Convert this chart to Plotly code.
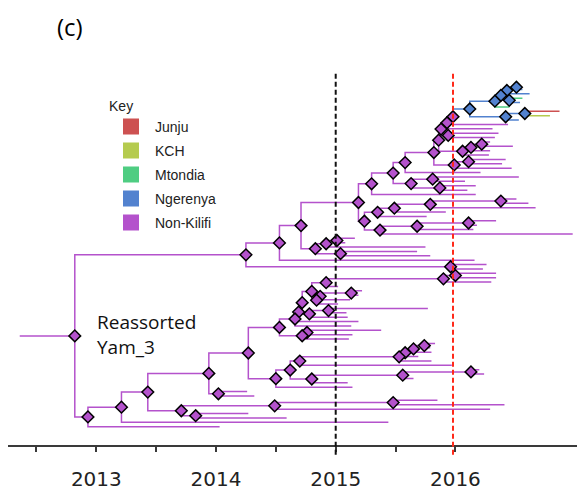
import plotly.graph_objects as go

# ---------------- data ----------------
# tips, listed top to bottom: sampling date (decimal year) and location code
tip_dates = [2016.54, 2016.56, 2016.62, 2016.56, 2016.54, 2016.45, 2016.87, 2016.79, 2016.53, 2016.44,
             2016.31, 2016.36, 2016.33, 2016.29, 2016.48, 2016.29, 2016.28, 2016.42, 2016.39, 2016.47,
             2016.21, 2016.53, 2016.08, 2016.17, 2016.10, 2016.17, 2016.51, 2016.61, 2016.67, 2015.92,
             2015.76, 2016.34, 2016.18, 2016.15, 2016.98, 2015.16, 2015.08, 2015.75, 2015.68, 2015.79,
             2016.16, 2016.26, 2016.23, 2016.34, 2016.34, 2016.30, 2015.02, 2015.22, 2015.19, 2015.12,
             2015.02, 2015.77, 2015.09, 2015.10, 2015.19, 2015.13, 2015.38, 2015.14, 2015.11, 2015.83,
             2015.79, 2015.80, 2015.69, 2015.80, 2015.97, 2016.20, 2016.24, 2015.65, 2015.10, 2015.14,
             2014.26, 2014.32, 2015.85, 2016.41, 2016.29, 2014.27, 2014.59, 2015.44, 2014.03]
tip_loc_codes = ("NNNMNMJKNX" "XXXXXXXXXX" "XXXXXXXXXX" "XXXXXXXXXX"
                 "XXXXXXXXXX" "XXXXXXXXXX" "XXXXXXXXXX" "XXXXXXXXX")

# internal nodes: name, date, inferred location, children
node_names = ["Z4", "Z2", "Z3", "Z1", "X1", "Y1", "X2", "W", "P1", "P2", "P4", "P3", "P10", "P9", "P8",
              "P5", "P11", "P7", "P6", "S", "U", "V", "T", "R", "I", "O", "Nn", "M", "K", "Q", "P", "L",
              "J", "D", "G", "F", "H", "E", "C", "B", "AN", "A",
              "N4", "N3", "N2", "N7", "N6", "N5", "N1", "L328", "LY", "LR", "LQ", "LP", "LO", "LN", "LK",
              "LX", "LW", "LV", "LU", "LS", "L470", "L403", "LT", "LM", "LL", "LI", "LJ", "LD", "LH",
              "LF", "LG", "LE", "LC", "LB", "LA", "root"]
node_dates = [2016.51, 2016.43, 2016.45, 2016.38, 2016.33, 2016.58, 2016.42, 2016.12, 2015.98, 2015.93,
              2015.94, 2015.88, 2016.22, 2016.13, 2016.06, 2015.86, 2016.11, 2015.99, 2015.82, 2015.58,
              2015.81, 2015.87, 2015.63, 2015.48, 2015.30, 2016.38, 2015.79, 2015.49, 2015.35, 2016.11,
              2015.68, 2015.37, 2015.24, 2015.19, 2015.01, 2014.92, 2015.04, 2014.83, 2014.71, 2014.53,
              2015.96, 2014.25,
              2016.00, 2015.90, 2014.92, 2015.13, 2014.87, 2014.84, 2014.80, 2014.94, 2014.78, 2014.72,
              2014.69, 2014.66, 2014.76, 2014.72, 2014.53, 2015.74, 2015.65, 2015.58, 2015.53, 2014.70,
              2016.13, 2015.56, 2014.80, 2014.62, 2014.50, 2014.27, 2014.02, 2013.94, 2015.48, 2014.49,
              2013.83, 2013.71, 2013.43, 2013.21, 2012.93, 2012.82]
node_loc_codes = ("NNNNNNNNXX" "XXXXXXXXXX" "XXXXXXXXXX" "XXXXXXXXXX"
                  "XXXXXXXXXX" "XXXXXXXXXX" "XXXXXXXXXX" "XXXXXXXX")
node_kids = [("t0", "t1"), ("Z4", "t2"), ("t3", "t4"), ("Z2", "Z3"), ("Z1", "t5"), ("t6", "t7"),
             ("Y1", "t8"), ("X1", "X2"), ("W", "t9"), ("P1", "t10"), ("t11", "t12"), ("P2", "P4"),
             ("t13", "t14"), ("P10", "t15"), ("P9", "t16"), ("P3", "P8"), ("t17", "t18"), ("P11", "t19"),
             ("P5", "P7"), ("P6", "t20"), ("t21", "t22"), ("t23", "t24"), ("U", "V"), ("S", "T"),
             ("R", "t25"), ("t26", "t27"), ("O", "t28"), ("Nn", "t29"), ("M", "t30"), ("t31", "t32"),
             ("Q", "t33"), ("P", "t34"), ("K", "L"), ("I", "J"), ("t35", "t36"), ("G", "t37"),
             ("t38", "t39"), ("F", "H"), ("D", "E"), ("C", "t40"), ("t41", "t42"), ("B", "AN"),
             ("t43", "t44"), ("N4", "t45"), ("N3", "t46"), ("t47", "t48"), ("N7", "t49"), ("N6", "t50"),
             ("N2", "N5"), ("t51", "t52"), ("L328", "t53"), ("N1", "LY"), ("LR", "t54"), ("LQ", "t55"),
             ("t56", "t57"), ("LO", "t58"), ("LP", "LN"), ("t59", "t60"), ("LX", "t61"), ("LW", "t62"),
             ("LV", "t63"), ("LU", "t64"), ("t65", "t66"), ("L470", "t67"), ("L403", "t68"),
             ("LS", "LT"), ("LM", "t69"), ("LK", "LL"), ("t70", "t71"), ("LI", "LJ"), ("t72", "t73"),
             ("LH", "t74"), ("t75", "t76"), ("LF", "LG"), ("LD", "LE"), ("LC", "t77"), ("LB", "t78"),
             ("A", "LA")]
root_stem_start = 2012.36

loc_names = {"J": "Junju", "K": "KCH", "M": "Mtondia", "N": "Ngerenya", "X": "Non-Kilifi"}
loc_order = ["J", "K", "M", "N", "X"]
loc_colors = {"J": "#CD5151", "K": "#B5CB4F", "M": "#4FCD82", "N": "#5282CF", "X": "#B452CC"}

year_ticks = [2012.5, 2013, 2013.5, 2014, 2014.5, 2015, 2015.5, 2016]
year_labels = ["", "2013", "", "2014", "", "2015", "", "2016"]
ref_dates = [2015.0, 2015.98]
ref_colors = ["#111111", "#FF2A1A"]

# ---------------- layout of tree ----------------
date = {f"t{i}": d for i, d in enumerate(tip_dates)}
loc = {f"t{i}": c for i, c in enumerate(tip_loc_codes)}
date.update(dict(zip(node_names, node_dates)))
loc.update(dict(zip(node_names, node_loc_codes)))
kids = dict(zip(node_names, node_kids))
ypos = {}


def place(n):
    if n in kids:
        ypos[n] = sum(place(c) for c in kids[n]) / len(kids[n])
    else:
        ypos[n] = int(n[1:])
    return ypos[n]


place("root")

seg = {c: ([], []) for c in loc_order}
xs, ys = seg["X"]
xs += [root_stem_start, date["root"], None]
ys += [ypos["root"], ypos["root"], None]
for p, ch in kids.items():
    for c in ch:
        xs, ys = seg[loc[c]]
        xs += [date[p], date[p], date[c], None]
        ys += [ypos[p], ypos[c], ypos[c], None]

fig = go.Figure()
for c in loc_order:
    xs, ys = seg[c]
    if xs:
        fig.add_trace(go.Scatter(x=xs, y=ys, mode="lines", showlegend=False, hoverinfo="skip",
                                 line=dict(color=loc_colors[c], width=1.5)))

for c in ["X", "N"]:
    nn = [n for n in node_names if loc[n] == c]
    fig.add_trace(go.Scatter(x=[date[n] for n in nn], y=[ypos[n] for n in nn], mode="markers",
                             showlegend=False, hoverinfo="skip",
                             marker=dict(symbol="diamond", size=9, color=loc_colors[c],
                                         line=dict(color="black", width=1.5))))

for c in loc_order:
    fig.add_trace(go.Scatter(x=[None], y=[None], mode="markers", name=loc_names[c],
                             legendgroup=c, showlegend=True,
                             marker=dict(symbol="square", size=16, color=loc_colors[c])))

for d, col in zip(ref_dates, ref_colors):
    fig.add_shape(type="line", xref="x", yref="paper", x0=d, x1=d, y0=-0.025, y1=0.967,
                  line=dict(color=col, width=2, dash="5px,3px"), layer="above")

fig.add_annotation(text="(c)", xref="paper", yref="paper", x=0.109, y=1.086,
                   xanchor="center", yanchor="middle", showarrow=False,
                   font=dict(family="Open Sans", size=24, color="black"))
fig.add_annotation(text="Reassorted<br>Yam_3", xref="paper", yref="paper", x=0.153, y=0.286,
                   xanchor="left", yanchor="middle", align="left", showarrow=False,
                   font=dict(family="Open Sans", size=19, color="#111111"))

fig.update_layout(
    width=580, height=498,
    margin=dict(l=8, r=3, t=60, b=53, autoexpand=False),
    paper_bgcolor="white", plot_bgcolor="white",
    showlegend=True,
    legend=dict(title=dict(text="Key", font=dict(family="Liberation Sans", size=14, color="#222")),
                font=dict(family="Liberation Sans", size=14, color="#222"),
                x=0.174, y=0.915, xanchor="left", yanchor="top",
                itemwidth=38, tracegroupgap=2.8, bgcolor="rgba(0,0,0,0)", itemclick=False),
    xaxis=dict(range=[2012.262, 2017.016], showline=True, linecolor="#3a3a3a", linewidth=1.5,
               ticks="outside", ticklen=5, tickwidth=1.5, tickcolor="#3a3a3a",
               tickvals=year_ticks, ticktext=year_labels, ticklabelstandoff=10,
               tickfont=dict(family="DejaVu Sans", size=20, color="#222"),
               showgrid=False, zeroline=False, fixedrange=True, automargin=False),
    yaxis=dict(range=[82.19, -5.71], visible=False, fixedrange=True, automargin=False),
)

fig.write_html("out.html", config={"displayModeBar": False},
               post_script="document.body.style.margin='0';")
